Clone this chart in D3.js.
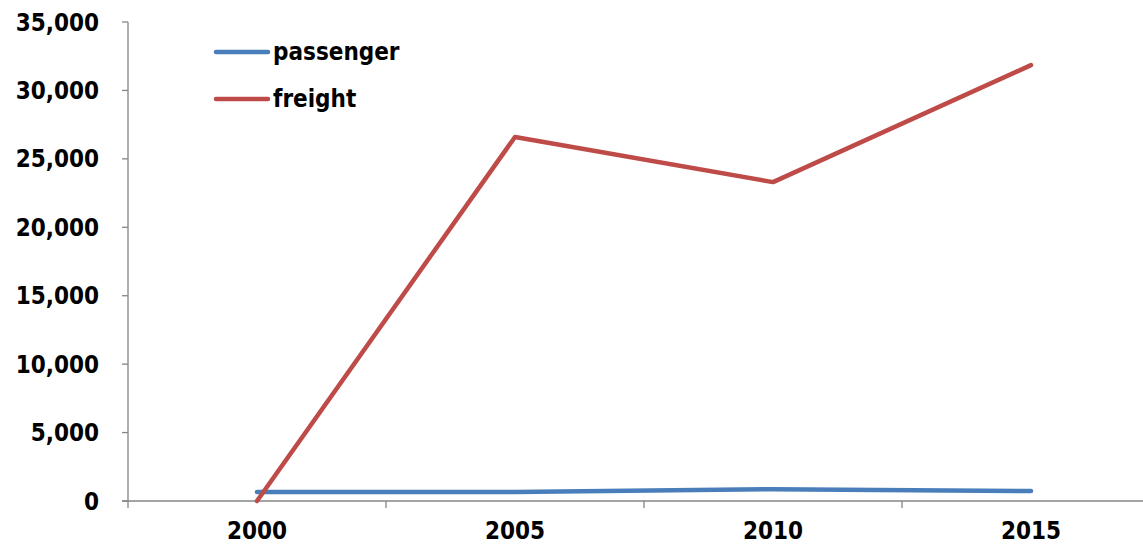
<!DOCTYPE html>
<html><head><meta charset="utf-8">
<script src="https://cdn.jsdelivr.net/npm/d3@7"></script>
<style>body{margin:0;background:#fff}svg{display:block}text{font-family:"DejaVu Sans Condensed","DejaVu Sans",sans-serif;font-weight:bold;fill:#000}</style>
</head><body>
<svg id="c" width="1143" height="544"></svg>
<script>
const categories = ["2000","2005","2010","2015"];
const passenger = [660, 650, 860, 730];
const freight = [0, 26600, 23300, 31850];
const yTicks = [0,5000,10000,15000,20000,25000,30000,35000];
const seriesNames = ["passenger","freight"];
const colors = ["#4a7ebb","#be4b48"];

const svg = d3.select("#c");
const x = d3.scaleBand().domain(categories).range([128,1160]);
const y = d3.scaleLinear().domain([0,35000]).range([501,22]);

const g = svg.append("g");
// y axis
g.append("line").attr("x1",128).attr("x2",128).attr("y1",y(35000)).attr("y2",y(0)).attr("stroke","#868686").attr("stroke-width",1.3);
yTicks.forEach(t=>{
  g.append("line").attr("x1",122).attr("x2",128).attr("y1",y(t)).attr("y2",y(t)).attr("stroke","#868686").attr("stroke-width",1.3);
  g.append("text").attr("x",99).attr("y",y(t)+8.5).attr("text-anchor","end").attr("font-size",24).text(d3.format(",")(t));
});
// x axis
g.append("line").attr("x1",122).attr("x2",1143).attr("y1",y(0)).attr("y2",y(0)).attr("stroke","#868686").attr("stroke-width",1.3);
categories.forEach((c,i)=>{
  const tx = x(c);
  g.append("line").attr("x1",tx).attr("x2",tx).attr("y1",y(0)).attr("y2",y(0)+7).attr("stroke","#868686").attr("stroke-width",1.3);
  g.append("text").attr("x",x(c)+x.bandwidth()/2).attr("y",539).attr("text-anchor","middle").attr("font-size",24).text(c);
});

const line = d3.line().x((d,i)=>x(categories[i])+x.bandwidth()/2).y(d=>y(d));
[passenger,freight].forEach((s,i)=>{
  svg.append("path").attr("d",line(s)).attr("fill","none").attr("stroke",colors[i]).attr("stroke-width",4.5).attr("stroke-linecap","round").attr("stroke-linejoin","round");
});
// legend
seriesNames.forEach((n,i)=>{
  const ly = 52 + i*47;
  svg.append("line").attr("x1",216).attr("x2",268).attr("y1",ly).attr("y2",ly).attr("stroke",colors[i]).attr("stroke-width",4.5).attr("stroke-linecap","round");
  svg.append("text").attr("x",273).attr("y",ly+8).attr("font-size",24).text(n);
});
</script>
</body></html>
